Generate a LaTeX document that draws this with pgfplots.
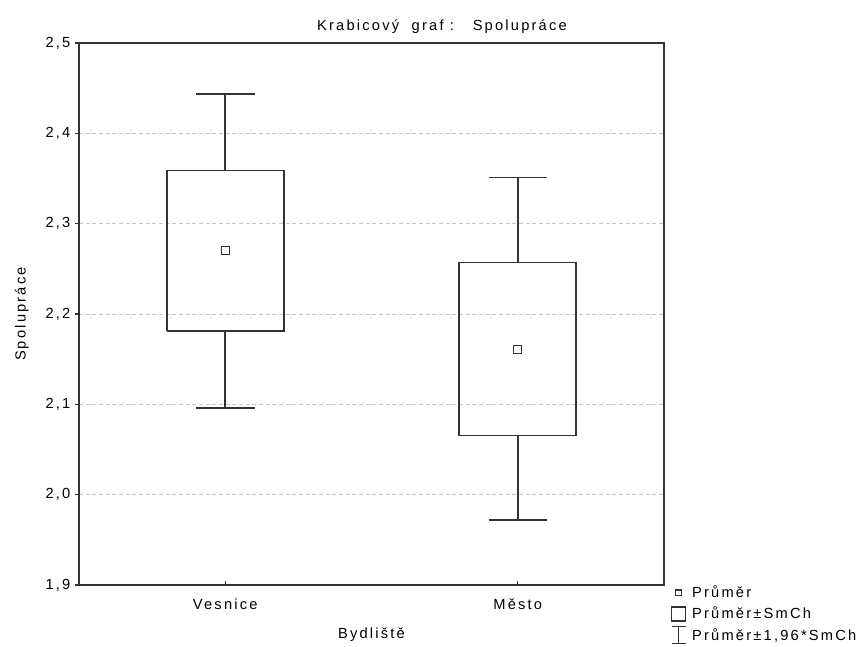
\documentclass[border=0pt]{standalone}
\usepackage{fontspec}
\setmainfont{Liberation Sans}[LetterSpace=15]
\usepackage{pgfplots}
\pgfplotsset{compat=1.18}
\definecolor{linec}{gray}{0.2}
\begin{document}
\begin{tikzpicture}
\useasboundingbox (0,0) rectangle (650.25pt,484.5pt);
\begin{axis}[
  at={(59.25pt,45.75pt)}, anchor=south west,
  scale only axis, width=438.75pt, height=406.5pt,
  xmin=0.5, xmax=2.5, ymin=1.9, ymax=2.5,
  xtick={1,2}, xticklabels={Vesnice, Město},
  ytick={1.9,2.0,2.1,2.2,2.3,2.4,2.5},
  /pgf/number format/assume math mode=true,
  yticklabel style={/pgf/number format/.cd, use comma, fixed, fixed zerofill, precision=1},
  xticklabel style={yshift=-7pt},
  tick pos=left,
  xtick align=inside, ytick align=outside,
  major tick length=3pt,
  tick style={linec, line width=0.8pt},
  ymajorgrids,
  grid style={gray!45, line width=0.5pt, dash pattern=on 3pt off 2pt},
  axis line style={linec, line width=1.1pt},
  font=\fontsize{11pt}{13pt}\selectfont,
  ticklabel style={font=\fontsize{11pt}{13pt}\selectfont},
  xlabel={Bydliště},
  ylabel={Spolupráce},
  title={Krabicový~~graf~:~~~Spolupráce},
  xlabel style={at={(axis description cs:0.5,0)}, anchor=center, yshift=-37pt},
  ylabel style={at={(axis description cs:0,0.5)}, anchor=center, yshift=43pt},
  title style={at={(axis description cs:0.6205,1)}, anchor=center, yshift=6pt},
  legend style={at={(axis description cs:1,0)}, anchor=north west, draw=none, fill=none,
    font=\fontsize{11pt}{13pt}\selectfont, row sep=1.5pt, inner sep=0pt, xshift=5pt, yshift=1.5pt,
    nodes={inner sep=2pt}},
  legend cell align=left,
]
% Vesnice
\addplot[forget plot, linec, line width=1.2pt] coordinates {(0.8,2.1815) (1.2,2.1815) (1.2,2.359) (0.8,2.359) (0.8,2.1815)};
\addplot[forget plot, linec, line width=1.2pt] coordinates {(1,2.359) (1,2.4435)};
\addplot[forget plot, linec, line width=1.2pt] coordinates {(0.9,2.4435) (1.1,2.4435)};
\addplot[forget plot, linec, line width=1.2pt] coordinates {(1,2.1815) (1,2.096)};
\addplot[forget plot, linec, line width=1.2pt] coordinates {(0.9,2.096) (1.1,2.096)};
% Mesto
\addplot[forget plot, linec, line width=1.2pt] coordinates {(1.8,2.0653) (2.2,2.0653) (2.2,2.2572) (1.8,2.2572) (1.8,2.0653)};
\addplot[forget plot, linec, line width=1.2pt] coordinates {(2,2.2572) (2,2.351)};
\addplot[forget plot, linec, line width=1.2pt] coordinates {(1.9,2.351) (2.1,2.351)};
\addplot[forget plot, linec, line width=1.2pt] coordinates {(2,2.0653) (2,1.972)};
\addplot[forget plot, linec, line width=1.2pt] coordinates {(1.9,1.972) (2.1,1.972)};
% means
\addplot[forget plot, only marks, mark=square, mark size=3pt, mark options={linec, line width=1pt, fill=white}]
  coordinates {(1,2.270) (2,2.161)};
\addlegendimage{legend image code/.code={\draw[linec, line width=0.9pt] (3.0pt,-2.2pt) rectangle (7.5pt,2.2pt);}}
\addlegendentry{\hspace{2.5pt}Průměr}
\addlegendimage{legend image code/.code={\draw[linec, line width=0.9pt] (0pt,-5.25pt) rectangle (10.5pt,5.25pt);}}
\addlegendentry{\hspace{2.5pt}Průměr±SmCh}
\addlegendimage{legend image code/.code={\draw[linec, line width=0.9pt] (0pt,-6.5pt) -- (10.5pt,-6.5pt) (0pt,6.5pt) -- (10.5pt,6.5pt) (5.25pt,-6.5pt) -- (5.25pt,6.5pt);}}
\addlegendentry{\hspace{2.5pt}Průměr±1,96*SmCh}
\end{axis}
\end{tikzpicture}
\end{document}
